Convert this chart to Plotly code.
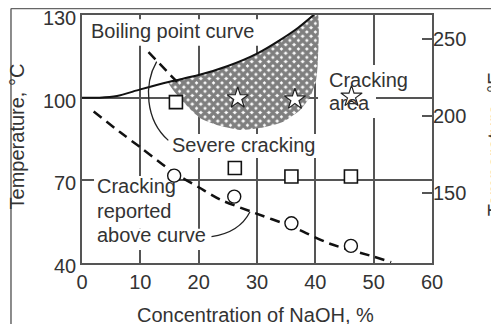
import plotly.graph_objects as go

# ---------------- data ----------------
x_ticks = [0, 10, 20, 30, 40, 50, 60]
c_ticks = [40, 70, 100, 130]
f_ticks = [150, 200, 250]

# boiling point curve (NaOH %, °C)
bp_x = [0, 3, 6, 10, 15, 20, 25, 30, 34, 37, 40]
bp_T = [100, 100, 100.6, 103, 105.8, 108.2, 111.5, 116, 121, 125.3, 130.5]

# severe cracking (hatched) region outline
sev_x = [14.8, 17, 20, 25, 30, 34, 37, 40.3, 40.4, 40.1, 39.1, 37.4, 34.5, 30.5, 27.1, 23.1, 20.2, 18.2, 16.5, 14.8]
sev_T = [105.7, 107, 108.2, 111.5, 116, 121, 125.3, 131, 112, 106, 100.3, 95.5, 91.3, 89, 88.3, 90.1, 92.6, 96.6, 100.5, 105.7]

# dashed curves
dash_up_x = [11.4, 16.3]
dash_up_T = [116.5, 105.7]
dash_low_x = [2, 6.5, 10, 15.6, 20, 23.7, 28.8, 36.2, 42.5, 50, 53]
dash_low_T = [95, 87.5, 82, 73, 67.5, 63, 58.8, 53, 47, 42.3, 40.3]

# data points
sq_x = [16.1, 26.2, 35.9, 46.1]
sq_T = [98.4, 74.5, 71.4, 71.4]
star_x = [26.7, 36.5, 46.2]
star_T = [99.8, 99.4, 100.4]
circ_x = [15.8, 26.1, 35.9, 46.1]
circ_T = [71.7, 64.1, 54.4, 46.2]

FONT = "Liberation Sans, Arial, sans-serif"
TXT = "#333333"
AX = "#555555"

fig = go.Figure()

fig.add_trace(go.Scatter(
    x=sev_x, y=sev_T, mode="lines", fill="toself",
    line=dict(width=0, color="rgba(0,0,0,0)", shape="spline", smoothing=0.6),
    fillcolor="white",
    fillpattern=dict(shape="x", size=6, solidity=0.82, fgcolor="#000000", bgcolor="white"),
    hoverinfo="skip", showlegend=False))

fig.add_trace(go.Scatter(
    x=bp_x, y=bp_T, mode="lines",
    line=dict(color="#111111", width=2, shape="spline", smoothing=0.8),
    showlegend=False))

for xs, ys in [(dash_up_x, dash_up_T), (dash_low_x, dash_low_T)]:
    fig.add_trace(go.Scatter(
        x=xs, y=ys, mode="lines",
        line=dict(color="#111111", width=2.5, dash="10px,6px", shape="spline", smoothing=0.8),
        showlegend=False))

fig.add_trace(go.Scatter(
    x=sq_x, y=sq_T, mode="markers",
    marker=dict(symbol="square", size=13, color="white", line=dict(color="#111111", width=1.6)),
    showlegend=False))
fig.add_trace(go.Scatter(
    x=star_x, y=star_T, mode="markers",
    marker=dict(symbol="star", size=16, color="white", line=dict(color="#222222", width=1.2)),
    showlegend=False))
fig.add_trace(go.Scatter(
    x=circ_x, y=circ_T, mode="markers",
    marker=dict(symbol="circle", size=13, color="white", line=dict(color="#111111", width=1.4)),
    showlegend=False))

# secondary axis trace (invisible) for °F scale
fig.add_trace(go.Scatter(x=[None], y=[None], yaxis="y2", showlegend=False))

# white boxes behind text (between gridlines and traces)
boxes = [
    (0.7, 30.5, 118.8, 128.5),
    (14.6, 41.1, 78.1, 86.8),
    (40.46, 56.6, 101.7, 111.9),
    (40.46, 50.4, 92.6, 101.7),
    (2.06, 16.46, 62.9, 71.6),
    (2.06, 16.1, 52.4, 62.9),
    (2.06, 21.8, 44.7, 52.4),
]
shapes = []
for x0, x1, y0, y1 in boxes:
    shapes.append(dict(type="rect", xref="x", yref="y", x0=x0, x1=x1, y0=y0, y1=y1,
                       fillcolor="white", line=dict(width=0), layer="between"))

# leader lines
shapes.append(dict(type="path", xref="x", yref="y",
                   path="M 12.8,113.1 C 10.6,105 10.8,92 14.8,84.5",
                   line=dict(color="#222222", width=1.3)))
shapes.append(dict(type="path", xref="x", yref="y",
                   path="M 22.2,49.6 Q 27,51 28.8,58.6",
                   line=dict(color="#222222", width=1.3)))

# outer frame (left and top edges)
shapes.append(dict(type="line", xref="paper", yref="paper", x0=-0.2029, x1=-0.2029, y0=1.026, y1=-0.3,
                   line=dict(color="#666666", width=1.5)))
shapes.append(dict(type="line", xref="paper", yref="paper", x0=-0.2029, x1=1.3, y0=1.026, y1=1.026,
                   line=dict(color="#666666", width=1.5)))

def txt(s, x, y, **kw):
    d = dict(text=s, x=x, y=y, xref="x", yref="y", showarrow=False, xanchor="left", yanchor="middle",
             font=dict(family=FONT, size=20, color=TXT))
    d.update(kw)
    return d

annotations = [
    txt("Boiling point curve", 1.15, 124.2),
    txt("Severe cracking", 15.03, 82.9),
    txt("Cracking", 42.0, 106.4),
    txt("area", 42.0, 98.1),
    txt("Cracking", 2.18, 67.8),
    txt("reported", 2.18, 58.8),
    txt("above curve", 2.18, 50.3),
    dict(text="Temperature, °C", x=-0.1846, y=0.512, xref="paper", yref="paper", showarrow=False,
         textangle=-90, xanchor="center", yanchor="middle", font=dict(family=FONT, size=20, color=TXT)),
    dict(text="Temperature, °F", x=1.1811, y=0.48, xref="paper", yref="paper", showarrow=False,
         textangle=-90, xanchor="center", yanchor="middle", font=dict(family=FONT, size=20, color=TXT)),
    dict(text="Concentration of NaOH, %", x=0.4966, y=-0.208, xref="paper", yref="paper", showarrow=False,
         xanchor="center", yanchor="middle", font=dict(family=FONT, size=20, color=TXT)),
]

# page body has an 8 px margin, so the figure is 491x316 placed at (8, 8)
fig.update_layout(
    width=491, height=316,
    margin=dict(l=74, r=67, t=7, b=61, autoexpand=False),
    paper_bgcolor="white", plot_bgcolor="white",
    font=dict(family=FONT, size=20, color=TXT),
    showlegend=False,
    shapes=shapes, annotations=annotations,
    xaxis=dict(range=[0, 60], tickvals=x_ticks, ticktext=[str(v) for v in x_ticks],
               showgrid=True, gridcolor=AX, gridwidth=1.5, zeroline=False, automargin=False,
               showline=True, linecolor=AX, linewidth=1.5, mirror=True, ticks="",
               ticklabeloverflow="allow",
               tickfont=dict(family=FONT, size=20, color=TXT), fixedrange=True),
    yaxis=dict(range=[40, 130], tickvals=c_ticks, ticktext=[str(v) for v in c_ticks],
               showgrid=True, gridcolor=AX, gridwidth=1.5, zeroline=False, automargin=False,
               showline=True, linecolor=AX, linewidth=1.5, mirror=True, ticks="",
               ticklabeloverflow="allow", ticklabelshift=3,
               tickfont=dict(family=FONT, size=20, color=TXT), fixedrange=True),
    yaxis2=dict(range=[104, 266], tickvals=f_ticks, ticktext=[str(v) for v in f_ticks],
                overlaying="y", side="right", showgrid=False, zeroline=False, showline=False,
                automargin=False, ticklabeloverflow="allow",
                ticks="inside", ticklen=10, tickwidth=1.5, tickcolor=AX,
                tickfont=dict(family=FONT, size=20, color=TXT), fixedrange=True),
)

fig.write_html("out.html")
